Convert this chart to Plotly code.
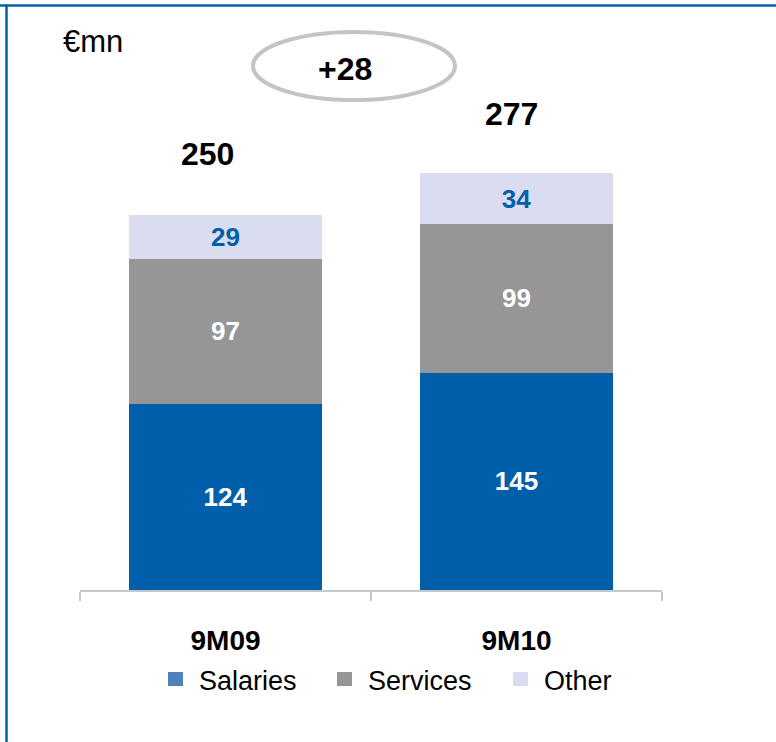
import plotly.graph_objects as go

# Operating expenses by component, € million
periods = ["9M09", "9M10"]
salaries = [124, 145]
services = [97, 99]
other = [29, 34]
totals = [250, 277]
delta_label = "+28"

BLUE = "#005FAA"
GREY = "#969696"
LILAC = "#DADDEF"
LEGEND_BLUE = "#4F81BD"
FONT = "Arial, Liberation Sans, sans-serif"

W, H = 776, 742
L, R, T, B = 80, 662, 140, 590


def px(x):
    return (x - L) / (R - L)


def py(y):
    return (B - y) / (B - T)


fig = go.Figure()
for name, vals, col, tcol in [
    ("Salaries", salaries, BLUE, "white"),
    ("Services", services, GREY, "white"),
    ("Other", other, LILAC, "#005FAA"),
]:
    fig.add_trace(go.Bar(
        x=periods, y=vals, name=name, marker=dict(color=col, line=dict(width=0)),
        text=[str(v) for v in vals], textposition="inside",
        insidetextanchor="middle", textangle=0,
        textfont=dict(family=FONT, size=26, color=tcol, weight="bold"),
        showlegend=False,
    ))

annotations = []
# totals above each stacked bar
for p, t, xs in zip(periods, totals, [-18, -5]):
    annotations.append(dict(
        x=p, y=t, xref="x", yref="y", text=f"<b>{t}</b>", showarrow=False,
        yanchor="middle", yshift=61, xshift=xs,
        font=dict(family=FONT, size=32, color="black"),
    ))

# unit label
annotations.append(dict(
    x=px(61), y=py(41), xref="paper", yref="paper", text="€mn",
    showarrow=False, xanchor="left", yanchor="middle",
    font=dict(family=FONT, size=31, color="black"),
))

# change between periods inside an ellipse
annotations.append(dict(
    x=px(345), y=py(69), xref="paper", yref="paper", text=f"<b>{delta_label}</b>",
    showarrow=False, xanchor="center", yanchor="middle",
    font=dict(family=FONT, size=32, color="black"),
))

shapes = [
    dict(type="circle", xref="paper", yref="paper",
         x0=px(253), x1=px(455), y0=py(100), y1=py(32),
         line=dict(color="#C4C4C4", width=4), fillcolor="rgba(0,0,0,0)"),
    # frame lines
    dict(type="line", xref="paper", yref="paper",
         x0=px(0), x1=px(W), y0=py(5.5), y1=py(5.5),
         line=dict(color="#0060A8", width=2.5)),
    dict(type="line", xref="paper", yref="paper",
         x0=px(6.5), x1=px(6.5), y0=py(4.5), y1=py(H),
         line=dict(color="#0060A8", width=2.5)),
]

# legend row
legend_items = [("Salaries", LEGEND_BLUE, 168), ("Services", GREY, 337), ("Other", LILAC, 513)]
for name, col, x0 in legend_items:
    shapes.append(dict(type="rect", xref="paper", yref="paper",
                       x0=px(x0), x1=px(x0 + 15), y0=py(686), y1=py(672),
                       fillcolor=col, line=dict(width=0)))
    annotations.append(dict(
        x=px(x0 + 29), y=py(681), xref="paper", yref="paper", text=name,
        showarrow=False, xanchor="left", yanchor="middle",
        font=dict(family=FONT, size=27, color="black"),
    ))

fig.update_layout(
    barmode="stack", bargap=0.34,
    width=W, height=H,
    margin=dict(l=L, r=W - R, t=T, b=H - B, pad=0),
    plot_bgcolor="white", paper_bgcolor="white",
    font=dict(family=FONT),
    annotations=annotations, shapes=shapes,
    xaxis=dict(
        range=[-0.5, 1.5], showgrid=False, zeroline=False,
        showline=True, linecolor="#C8C8C8", linewidth=2,
        ticks="outside", tickson="boundaries", ticklen=9, tickwidth=2,
        tickcolor="#C8C8C8", ticklabelstandoff=24,
        tickfont=dict(family=FONT, size=28, color="black", weight="bold"),
    ),
    yaxis=dict(range=[0, 300], visible=False, showgrid=False, zeroline=False),
)

fig.write_html("out.html")
